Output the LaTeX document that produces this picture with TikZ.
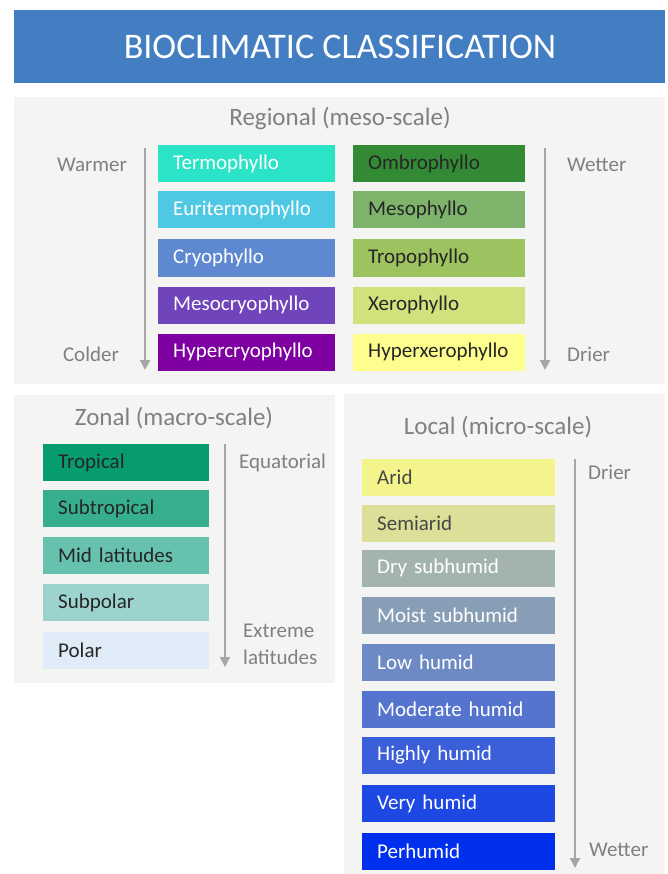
\documentclass[tikz,border=0pt]{standalone}
\usepackage{fontspec}
\setmainfont{Carlito}
\usetikzlibrary{arrows.meta}

\definecolor{titleblue}{HTML}{447EC2}
\definecolor{panelgray}{HTML}{F4F4F3}
\definecolor{labelgray}{HTML}{808080}
\definecolor{arrowgray}{HTML}{A6A6A6}
\definecolor{darktext}{HTML}{262626}
% regional
\definecolor{termo}{HTML}{2BE3C7}
\definecolor{euritermo}{HTML}{4FC8E3}
\definecolor{cryo}{HTML}{5E88D0}
\definecolor{mesocryo}{HTML}{7044BA}
\definecolor{hypercryo}{HTML}{7E00A0}
\definecolor{ombro}{HTML}{338A35}
\definecolor{meso}{HTML}{7DB36A}
\definecolor{tropo}{HTML}{9CC35F}
\definecolor{xero}{HTML}{CFE27C}
\definecolor{hyperxero}{HTML}{FEFE8E}
% zonal
\definecolor{tropical}{HTML}{069C6E}
\definecolor{subtropical}{HTML}{36AF8E}
\definecolor{midlat}{HTML}{66C2AE}
\definecolor{subpolar}{HTML}{9CD3CF}
\definecolor{polar}{HTML}{DFEBF7}
% local
\definecolor{arid}{HTML}{F4F48C}
\definecolor{semiarid}{HTML}{DBDF97}
\definecolor{drysub}{HTML}{A3B4AC}
\definecolor{moistsub}{HTML}{879EB6}
\definecolor{lowhum}{HTML}{6E8AC4}
\definecolor{modhum}{HTML}{5574CE}
\definecolor{highhum}{HTML}{3A5FD9}
\definecolor{veryhum}{HTML}{1E48E3}
\definecolor{perhum}{HTML}{0030EC}

\begin{document}
\begin{tikzpicture}[x=1pt,y=-1pt,
  classbox/.style={anchor=west, minimum height=37pt, inner xsep=15pt, inner ysep=0pt,
    align=left, font=\fontsize{21}{25}\selectfont},
  darkbox/.style={classbox, text=darktext},
  lightbox/.style={classbox, text=white},
  sidelabel/.style={inner sep=0pt, text=labelgray, align=left, font=\fontsize{21}{27}\selectfont},
  paneltitle/.style={inner sep=0pt, text=labelgray, font=\fontsize{25}{30}\selectfont},
  scalearrow/.style={draw=arrowgray, line width=2pt, -{Triangle[width=10pt,length=10pt]}}]
  \useasboundingbox (0,0) rectangle (667,874);
  % title bar
  \fill[titleblue] (14,10) rectangle (665,83);
  \node[text=white, font=\fontsize{36}{42}\selectfont] (title) at (340,47) {BIOCLIMATIC CLASSIFICATION};
  % panels
  \fill[panelgray] (14,97) rectangle (665,384);
  \fill[panelgray] (14,395) rectangle (335,683);
  \fill[panelgray] (344,394) rectangle (665,874);

  % regional (meso-scale)
  \node[paneltitle] (regional) at (340,119) {Regional (meso-scale)};
  \node[lightbox, text width=147pt, fill=termo] (termo) at (158,164) {Termophyllo};
  \node[lightbox, text width=147pt, fill=euritermo] (euritermo) at (158,210) {Euritermophyllo};
  \node[lightbox, text width=147pt, fill=cryo] (cryo) at (158,258) {Cryophyllo};
  \node[lightbox, text width=147pt, fill=mesocryo] (mesocryo) at (158,305) {Mesocryophyllo};
  \node[lightbox, text width=147pt, fill=hypercryo] (hypercryo) at (158,352) {Hypercryophyllo};
  \node[darkbox, text width=142pt, fill=ombro] (ombro) at (353,164) {Ombrophyllo};
  \node[darkbox, text width=142pt, fill=meso] (meso) at (353,210) {Mesophyllo};
  \node[darkbox, text width=142pt, fill=tropo] (tropo) at (353,258) {Tropophyllo};
  \node[darkbox, text width=142pt, fill=xero] (xero) at (353,305) {Xerophyllo};
  \node[darkbox, text width=142pt, fill=hyperxero] (hyperxero) at (353,352) {Hyperxerophyllo};
  % temperature scale
  \node[sidelabel] (warmer) at (92,165) {Warmer};
  \node[sidelabel] (colder) at (91,354) {Colder};
  \coordinate (warmtop) at (145,148);
  \coordinate (coldbot) at (145,370);
  \draw[scalearrow] (warmtop) -- (coldbot);
  % humidity scale
  \node[sidelabel, anchor=west] (wetter) at (567,165) {Wetter};
  \node[sidelabel, anchor=west] (drier) at (567,354) {Drier};
  \coordinate (wettop) at (545,148);
  \coordinate (drybot) at (545,370);
  \draw[scalearrow] (wettop) -- (drybot);

  % zonal (macro-scale)
  \node[paneltitle] (zonal) at (174,418) {Zonal (macro-scale)};
  \node[darkbox, text width=136pt, fill=tropical] (tropical) at (43,462.5) {Tropical};
  \node[darkbox, text width=136pt, fill=subtropical] (subtropical) at (43,508.5) {Subtropical};
  \node[darkbox, text width=136pt, fill=midlat] (midlat) at (43,555.5) {Mid latitudes};
  \node[darkbox, text width=136pt, fill=subpolar] (subpolar) at (43,602.5) {Subpolar};
  \node[darkbox, text width=136pt, fill=polar] (polar) at (43,650.5) {Polar};
  % latitude scale
  \node[sidelabel, anchor=west] (equatorial) at (239,463) {Equatorial};
  \node[sidelabel, anchor=west] (extreme) at (243,644.5) {Extreme\\latitudes};
  \coordinate (eqtop) at (225,444);
  \coordinate (extbot) at (225,667);
  \draw[scalearrow] (eqtop) -- (extbot);

  % local (micro-scale)
  \node[paneltitle] (local) at (498,427) {Local (micro-scale)};
  \node[darkbox, text width=163pt, fill=arid, text=darktext!85] (arid) at (362,477.5) {Arid};
  \node[darkbox, text width=163pt, fill=semiarid, text=darktext!85] (semiarid) at (362,523.5) {Semiarid};
  \node[lightbox, text width=163pt, fill=drysub] (drysub) at (362,568) {Dry subhumid};
  \node[lightbox, text width=163pt, fill=moistsub] (moistsub) at (362,615.5) {Moist subhumid};
  \node[lightbox, text width=163pt, fill=lowhum] (lowhum) at (362,662.5) {Low humid};
  \node[lightbox, text width=163pt, fill=modhum] (modhum) at (362,709) {Moderate humid};
  \node[lightbox, text width=163pt, fill=highhum] (highhum) at (362,755.5) {Highly humid};
  \node[lightbox, text width=163pt, fill=veryhum] (veryhum) at (362,803.5) {Very humid};
  \node[lightbox, text width=163pt, fill=perhum] (perhum) at (362,851) {Perhumid};
  % moisture scale
  \node[sidelabel, anchor=west] (localdrier) at (588,472) {Drier};
  \node[sidelabel, anchor=west] (localwetter) at (589,850) {Wetter};
  \coordinate (drytop) at (575,459);
  \coordinate (wetbot) at (575,868);
  \draw[scalearrow] (drytop) -- (wetbot);
\end{tikzpicture}
\end{document}
